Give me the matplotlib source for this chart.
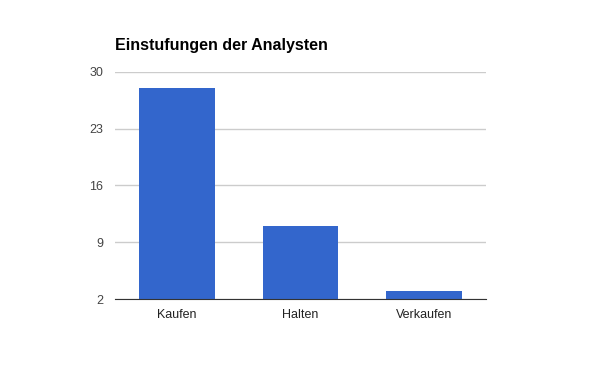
import matplotlib.pyplot as plt

categories = ['Kaufen', 'Halten', 'Verkaufen']
values = [28, 11, 3]
yticks = [2, 9, 16, 23, 30]

plt.rcParams['font.family'] = ['Liberation Sans', 'DejaVu Sans']

fig = plt.figure(figsize=(6, 3.71), dpi=100)
ax = fig.add_axes([0.1917, 0.194, 0.618, 0.6127])

ax.bar(range(len(categories)), values, width=0.61, color='#3366cc', zorder=3)
ax.set_xlim(-0.5, len(categories) - 0.5)
ax.set_ylim(yticks[0], yticks[-1])
ax.set_yticks(yticks)
ax.set_xticks(range(len(categories)))
ax.set_xticklabels(categories)

ax.grid(axis='y', color='#cccccc', linewidth=1, zorder=0)
for s in ['top', 'right', 'left']:
    ax.spines[s].set_visible(False)
ax.spines['bottom'].set_color('#333333')
ax.spines['bottom'].set_zorder(4)
ax.tick_params(length=0, labelsize=9, colors='#444444')
ax.tick_params(axis='y', pad=8.5)
ax.tick_params(axis='x', pad=7.5, labelcolor='#222222')

fig.text(0.1917, 0.878, 'Einstufungen der Analysten', fontsize=11.5,
         fontweight='bold', ha='left', va='center', color='#000000')

fig.savefig('out.png', dpi=100)
